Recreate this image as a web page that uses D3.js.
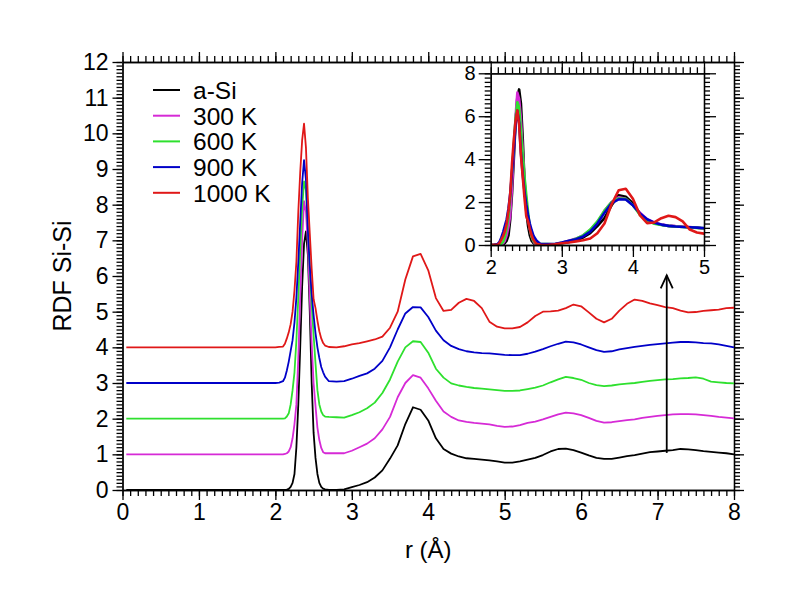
<!DOCTYPE html>
<html>
<head>
<meta charset="utf-8">
<script src="https://cdn.jsdelivr.net/npm/d3@7"></script>
<style>
  body { margin: 0; background: #fff; }
  svg text { font-family: "Liberation Sans", Arial, sans-serif; fill: #000; }
  .axis path, .axis line { stroke: #000; stroke-width: 1.3; }
</style>
</head>
<body>
<div id="chart"></div>
<script>
// r grid shared by all curves (Å)
const rGrid = [0.05, 0.5, 1.0, 1.5, 2.0, 2.05,
  2.1, 2.125, 2.15, 2.175, 2.2, 2.225, 2.25, 2.275, 2.3, 2.325, 2.35, 2.375,
  2.4, 2.425, 2.45, 2.475, 2.5, 2.525, 2.55, 2.575, 2.6, 2.625, 2.65,
  2.7, 2.8, 2.9, 3.0, 3.1, 3.2, 3.3, 3.4, 3.5, 3.6, 3.7, 3.8, 3.9,
  4.0, 4.1, 4.2, 4.3, 4.4, 4.5, 4.6, 4.7, 4.8, 4.9,
  5.0, 5.1, 5.2, 5.3, 5.4, 5.5, 5.6, 5.7, 5.8, 5.9,
  6.0, 6.1, 6.2, 6.3, 6.4, 6.5, 6.6, 6.7, 6.8, 6.9,
  7.0, 7.1, 7.2, 7.3, 7.4, 7.5, 7.6, 7.7, 7.8, 7.9, 8.0];

// g(r), unshifted
const gASi = [0, 0, 0, 0, 0, 0,
  0, 0, 0.01, 0.03, 0.09, 0.2, 0.45, 1.2, 2.4, 4.0, 5.7, 6.9,
  7.25, 6.6, 5.0, 3.0, 1.6, 0.9, 0.45, 0.2, 0.09, 0.04, 0.02,
  0.0, 0.0, 0.02, 0.08, 0.14, 0.22, 0.35, 0.55, 0.88, 1.25, 1.85, 2.32, 2.25,
  1.95, 1.45, 1.15, 1.02, 0.94, 0.89, 0.87, 0.85, 0.83, 0.8,
  0.77, 0.77, 0.8, 0.85, 0.9, 0.98, 1.08, 1.15, 1.16, 1.12,
  1.05, 0.97, 0.9, 0.87, 0.87, 0.91, 0.95, 0.98, 1.02, 1.06,
  1.08, 1.1, 1.12, 1.15, 1.14, 1.12, 1.09, 1.07, 1.05, 1.03, 1.0];

const g300 = [0, 0, 0, 0, 0, 0,
  0, 0.01, 0.03, 0.08, 0.2, 0.45, 0.85, 1.4, 2.7, 4.4, 6.0, 7.1,
  6.8, 5.9, 4.4, 3.1, 2.0, 1.35, 0.75, 0.4, 0.18, 0.06, 0.03,
  0.03, 0.03, 0.03, 0.1, 0.2, 0.3, 0.45, 0.7, 1.05, 1.6, 2.0, 2.22, 2.15,
  1.85, 1.5, 1.2, 1.05, 0.95, 0.91, 0.88, 0.86, 0.84, 0.8,
  0.77, 0.78, 0.82, 0.88, 0.92, 0.98, 1.05, 1.12, 1.17, 1.15,
  1.1, 1.02, 0.94, 0.89, 0.9, 0.93, 0.96, 0.98, 1.02, 1.05,
  1.08, 1.1, 1.12, 1.13, 1.13, 1.12, 1.1, 1.08, 1.05, 1.03, 1.01];

const g600 = [0, 0, 0, 0, 0, 0,
  0, 0.01, 0.06, 0.15, 0.4, 0.8, 1.3, 2.2, 3.4, 4.7, 5.9, 6.65,
  6.4, 5.4, 4.2, 3.2, 2.35, 1.55, 0.8, 0.4, 0.2, 0.1, 0.06,
  0.05, 0.04, 0.03, 0.1, 0.18, 0.29, 0.45, 0.72, 1.1, 1.6, 2.0, 2.17, 2.15,
  1.85, 1.4, 1.15, 0.99, 0.93, 0.89, 0.86, 0.84, 0.82, 0.8,
  0.78, 0.78, 0.79, 0.83, 0.87, 0.93, 1.02, 1.1, 1.17, 1.14,
  1.09, 1.0, 0.94, 0.91, 0.93, 0.96, 0.98, 1.0, 1.03, 1.06,
  1.08, 1.1, 1.11, 1.13, 1.14, 1.16, 1.12, 1.04, 1.02, 1.0, 0.99];

const g900 = [0, 0, 0, 0, 0, 0.01,
  0.05, 0.15, 0.35, 0.6, 0.9, 1.2, 1.7, 2.4, 3.4, 4.5, 5.6, 6.25,
  5.7, 4.3, 3.3, 2.5, 1.9, 1.4, 1.0, 0.7, 0.45, 0.3, 0.18,
  0.05, 0.04, 0.05, 0.12, 0.2, 0.27, 0.4, 0.62, 1.0, 1.5, 1.95, 2.13, 2.12,
  1.85, 1.47, 1.2, 1.04, 0.95, 0.89, 0.86, 0.84, 0.83, 0.81,
  0.79, 0.78, 0.78, 0.82, 0.88, 0.95, 1.03, 1.1, 1.16, 1.14,
  1.08, 1.0, 0.92, 0.87, 0.89, 0.94, 0.98, 1.01, 1.04, 1.07,
  1.09, 1.11, 1.13, 1.15, 1.15, 1.14, 1.12, 1.11, 1.08, 1.04, 1.0];

const g1000 = [0, 0, 0, 0, 0, 0.01,
  0.02, 0.1, 0.25, 0.42, 0.65, 1.0, 1.6, 2.4, 3.8, 4.9, 5.8, 6.27,
  5.6, 4.2, 3.2, 2.2, 1.35, 1.1, 0.75, 0.45, 0.25, 0.12, 0.05,
  0.01, 0.0, 0.03, 0.08, 0.12, 0.17, 0.22, 0.3, 0.55, 1.0, 1.9, 2.55, 2.62,
  2.16, 1.38, 1.02, 1.05, 1.25, 1.36, 1.3, 1.1, 0.72, 0.58,
  0.53, 0.53, 0.57, 0.7, 0.88, 1.0, 1.01, 1.03, 1.1, 1.2,
  1.15, 0.98, 0.8, 0.7, 0.8, 1.03, 1.22, 1.34, 1.3, 1.23,
  1.18, 1.13, 1.1, 1.03, 0.98, 0.99, 1.02, 1.04, 1.06, 1.1, 1.11];

const seriesNames = ["a-Si", "300 K", "600 K", "900 K", "1000 K"];
const seriesValues = [gASi, g300, g600, g900, g1000];
const seriesOffsets = [0, 1, 2, 3, 4];
const seriesColors = ["#000000", "#d62ad6", "#2ee02e", "#0000c8", "#e01818"];

const xTicks = [0, 1, 2, 3, 4, 5, 6, 7, 8];
const yTicks = [0, 1, 2, 3, 4, 5, 6, 7, 8, 9, 10, 11, 12];
const insetXTicks = [2, 3, 4, 5];
const insetYTicks = [0, 2, 4, 6, 8];

// arrow annotation (data coords)
const arrowR = 7.12, arrowFrom = 1.04, arrowTo = 6.02;

const W = 792, H = 612;
const svg = d3.select("#chart").append("svg")
  .attr("width", W).attr("height", H);

// main scales
const x = d3.scaleLinear().domain([0, 8]).range([122.5, 734]);
const y = d3.scaleLinear().domain([0, 12]).range([490, 62]);

const series = seriesNames.map((name, i) => ({
  name,
  color: seriesColors[i],
  offset: seriesOffsets[i],
  points: rGrid.map((r, j) => ({ r, g: seriesValues[i][j] }))
}));

// axes: minor and major ticks on all four sides
function drawAxes(g, xs, ys, opt) {
  const [x0, x1] = xs.range();
  const [y0, y1] = ys.range();
  const xMinor = d3.range(xs.domain()[0], xs.domain()[1] + 1e-9, opt.xMinor);
  const yMinor = d3.range(ys.domain()[0], ys.domain()[1] + 1e-9, opt.yMinor);
  const fmt = d3.format("d");

  g.append("g").attr("class", "axis").attr("transform", `translate(0,${y0})`)
    .call(d3.axisBottom(xs).tickValues(xMinor).tickSize(opt.minor).tickFormat("").tickSizeOuter(0));
  g.append("g").attr("class", "axis").attr("transform", `translate(0,${y1})`)
    .call(d3.axisTop(xs).tickValues(xMinor).tickSize(opt.minor).tickFormat("").tickSizeOuter(0));
  g.append("g").attr("class", "axis").attr("transform", `translate(${x0},0)`)
    .call(d3.axisLeft(ys).tickValues(yMinor).tickSize(opt.minor).tickFormat("").tickSizeOuter(0));
  g.append("g").attr("class", "axis").attr("transform", `translate(${x1},0)`)
    .call(d3.axisRight(ys).tickValues(yMinor).tickSize(opt.minor).tickFormat("").tickSizeOuter(0));

  const bx = g.append("g").attr("class", "axis").attr("transform", `translate(0,${y0})`)
    .call(d3.axisBottom(xs).tickValues(opt.xTicks).tickSize(opt.major).tickPadding(opt.pad).tickFormat(fmt).tickSizeOuter(0));
  g.append("g").attr("class", "axis").attr("transform", `translate(0,${y1})`)
    .call(d3.axisTop(xs).tickValues(opt.xTicks).tickSize(opt.major).tickFormat("").tickSizeOuter(0));
  const ly = g.append("g").attr("class", "axis").attr("transform", `translate(${x0},0)`)
    .call(d3.axisLeft(ys).tickValues(opt.yTicks).tickSize(opt.major).tickPadding(opt.pad).tickFormat(fmt).tickSizeOuter(0));
  g.append("g").attr("class", "axis").attr("transform", `translate(${x1},0)`)
    .call(d3.axisRight(ys).tickValues(opt.yTicks).tickSize(opt.major).tickFormat("").tickSizeOuter(0));

  bx.selectAll("text").style("font-size", opt.font + "px").style("font-family", "Liberation Sans, Arial, sans-serif");
  ly.selectAll("text").style("font-size", opt.font + "px").style("font-family", "Liberation Sans, Arial, sans-serif");
}

drawAxes(svg, x, y, { xTicks, yTicks, xMinor: 0.1, yMinor: 0.1, major: 10, minor: 6, pad: 4, font: 23 });

// main curves (shifted)
const line = d3.line().x(d => x(d.r)).y(d => y(d.g));
svg.append("g").selectAll("path")
  .data(series)
  .join("path")
  .attr("fill", "none")
  .attr("stroke", d => d.color)
  .attr("stroke-width", 1.8)
  .attr("stroke-linejoin", "round")
  .attr("d", d => line(d.points.map(p => ({ r: p.r, g: p.g + d.offset }))));

// arrow
svg.append("line")
  .attr("x1", x(arrowR)).attr("x2", x(arrowR))
  .attr("y1", y(arrowFrom)).attr("y2", y(arrowTo))
  .attr("stroke", "#000").attr("stroke-width", 1.8);
svg.append("path")
  .attr("d", `M${x(arrowR) - 6},${y(arrowTo) + 13}L${x(arrowR)},${y(arrowTo)}L${x(arrowR) + 6},${y(arrowTo) + 13}`)
  .attr("fill", "none").attr("stroke", "#000").attr("stroke-width", 1.8);

// axis titles
svg.append("text")
  .attr("x", (x(0) + x(8)) / 2).attr("y", 558)
  .attr("text-anchor", "middle").style("font-size", "24px")
  .text("r (Å)");
svg.append("text")
  .attr("transform", `translate(71,${(y(0) + y(12)) / 2}) rotate(-90)`)
  .attr("text-anchor", "middle").style("font-size", "25px")
  .text("RDF Si-Si");

// legend
const legend = svg.append("g").selectAll("g")
  .data(series)
  .join("g")
  .attr("transform", (d, i) => `translate(153,${90 + i * 25.7})`);
legend.append("line")
  .attr("x1", 0).attr("x2", 27)
  .attr("stroke", d => d.color).attr("stroke-width", 2);
legend.append("text")
  .attr("x", 40).attr("dy", "0.36em")
  .style("font-size", "24.5px")
  .text(d => d.name);

// inset
const ix = d3.scaleLinear().domain([2, 5]).range([490.7, 704]);
const iy = d3.scaleLinear().domain([0, 8]).range([245, 73.3]);
const inset = svg.append("g");
inset.append("rect")
  .attr("x", ix(2)).attr("y", iy(8))
  .attr("width", ix(5) - ix(2)).attr("height", iy(0) - iy(8))
  .attr("fill", "#fff");
inset.append("clipPath").attr("id", "insetClip")
  .append("rect")
  .attr("x", ix(2)).attr("y", iy(8))
  .attr("width", ix(5) - ix(2)).attr("height", iy(0) - iy(8));

const iline = d3.line().x(d => ix(d.r)).y(d => iy(d.g));
inset.append("g").attr("clip-path", "url(#insetClip)")
  .selectAll("path")
  .data(series)
  .join("path")
  .attr("fill", "none")
  .attr("stroke", d => d.color)
  .attr("stroke-width", 2.6)
  .attr("stroke-linejoin", "round")
  .attr("d", d => iline(d.points.filter(p => p.r >= 1.9 && p.r <= 5.1)));

drawAxes(inset, ix, iy, { xTicks: insetXTicks, yTicks: insetYTicks, xMinor: 0.1, yMinor: 0.2, major: 12, minor: 6, pad: 3, font: 20 });
</script>
</body>
</html>
